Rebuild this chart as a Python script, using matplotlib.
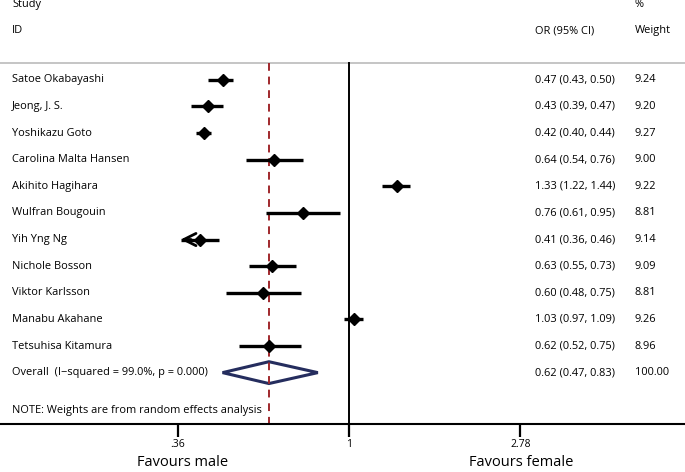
import matplotlib
matplotlib.use("Agg")
import matplotlib.pyplot as plt
import matplotlib.transforms as mtransforms
from matplotlib.patches import Polygon

plt.rcParams['font.family'] = ['Open Sans', 'DejaVu Sans']

# data
studies = ["Satoe Okabayashi", "Jeong, J. S.", "Yoshikazu Goto", "Carolina Malta Hansen",
           "Akihito Hagihara", "Wulfran Bougouin", "Yih Yng Ng", "Nichole Bosson",
           "Viktor Karlsson", "Manabu Akahane", "Tetsuhisa Kitamura"]
odds = [0.47, 0.43, 0.42, 0.64, 1.33, 0.76, 0.41, 0.63, 0.60, 1.03, 0.62]
lower = [0.43, 0.39, 0.40, 0.54, 1.22, 0.61, 0.36, 0.55, 0.48, 0.97, 0.52]
upper = [0.50, 0.47, 0.44, 0.76, 1.44, 0.95, 0.46, 0.73, 0.75, 1.09, 0.75]
weights = ["9.24", "9.20", "9.27", "9.00", "9.22", "8.81", "9.14", "9.09", "8.81", "9.26", "8.96"]
overall = 0.62
overall_lo = 0.47
overall_hi = 0.83
overall_label = "Overall  (I\u2212squared = 99.0%, p = 0.000)"
xticks = [0.36, 1, 2.78]
xtick_labels = [".36", "1", "2.78"]

fig = plt.figure(figsize=(6.85, 4.72), dpi=100)
ax = fig.add_axes([0, 48 / 472, 1, 424 / 472])
ax.set_xscale("log")
ax.set_xlim(0.1245, 7.43)
ax.set_ylim(12.93, -3.0)

for s in ["top", "left", "right"]:
    ax.spines[s].set_visible(False)
ax.spines["bottom"].set_linewidth(1.5)
ax.set_yticks([])
ax.set_xticks(xticks)
ax.set_xticklabels(xtick_labels, fontsize=7.5)
ax.xaxis.set_minor_locator(matplotlib.ticker.NullLocator())
ax.tick_params(axis="x", length=9, width=1.6, pad=2)

tr = mtransforms.blended_transform_factory(ax.transAxes, ax.transData)
fs = 7.9

# headers
ax.text(0.0175, -2.82, "Study", transform=tr, fontsize=fs, va="center")
ax.text(0.0175, -1.84, "ID", transform=tr, fontsize=fs, va="center")
ax.text(0.781, -1.84, "OR (95% CI)", transform=tr, fontsize=fs, va="center")
ax.text(0.927, -2.82, "%", transform=tr, fontsize=fs, va="center")
ax.text(0.927, -1.84, "Weight", transform=tr, fontsize=fs, va="center")
ax.plot([0, 1], [-0.64, -0.64], transform=tr, color="#bbbbbb", lw=1.2, clip_on=False)

# reference lines
ax.plot([1, 1], [-0.64, 12.93], color="black", lw=1.4)
ax.plot([overall, overall], [-0.64, 12.93], color="#a0282c", lw=1.4, ls=(0, (4, 3)))

xmin_clip = xticks[0]
for i, name in enumerate(studies):
    ax.text(0.0175, i, name, transform=tr, fontsize=fs, va="center")
    ax.text(0.781, i, "%.2f (%.2f, %.2f)" % (odds[i], lower[i], upper[i]),
            transform=tr, fontsize=fs, va="center")
    ax.text(0.927, i, weights[i], transform=tr, fontsize=fs, va="center")
    if lower[i] <= xmin_clip:
        ax.plot([xmin_clip * 1.02, upper[i]], [i, i], color="black", lw=2.4,
                solid_capstyle="butt")
        ax.annotate("", xy=(xmin_clip, i), xytext=(xmin_clip * 1.1, i),
                    arrowprops=dict(arrowstyle="->", color="black", lw=2.0,
                                    mutation_scale=22))
    else:
        ax.plot([lower[i], upper[i]], [i, i], color="black", lw=2.4, solid_capstyle="butt")
    ax.plot(odds[i], i, marker="D", color="black", markersize=6)

# overall diamond
oy = len(studies)
diamond = Polygon([(overall_lo, oy), (overall, oy - 0.41), (overall_hi, oy), (overall, oy + 0.41)],
                  closed=True, fill=False, edgecolor="#252d5e", lw=2.2)
ax.add_patch(diamond)
ax.text(0.0175, oy, overall_label, transform=tr, fontsize=fs, va="center")
ax.text(0.781, oy, "%.2f (%.2f, %.2f)" % (overall, overall_lo, overall_hi),
        transform=tr, fontsize=fs, va="center")
ax.text(0.927, oy, "100.00", transform=tr, fontsize=fs, va="center")

ax.text(0.0175, 12.44, "NOTE: Weights are from random effects analysis", transform=tr,
        fontsize=fs, va="center")

# bottom labels
fig.text(183 / 685, 10 / 472, "Favours male", fontsize=10.5, ha="center", va="center")
fig.text(521 / 685, 10 / 472, "Favours female", fontsize=10.5, ha="center", va="center")

fig.savefig("out.png", dpi=100)
